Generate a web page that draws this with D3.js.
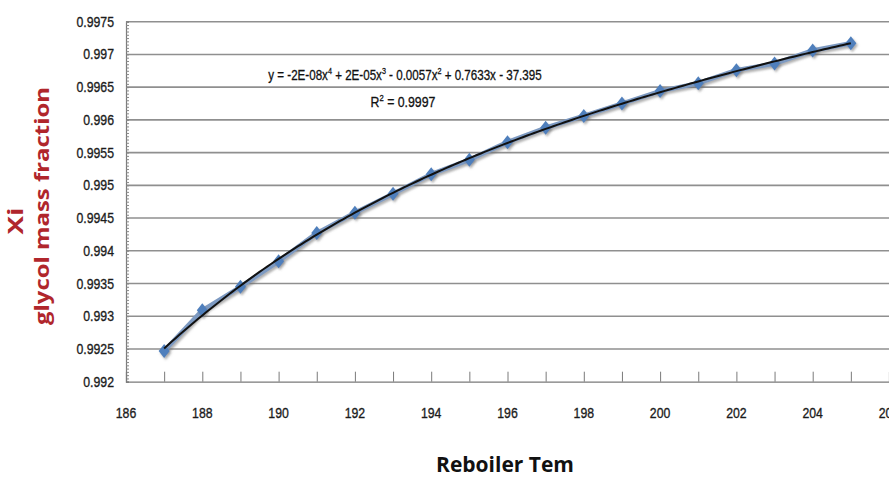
<!DOCTYPE html>
<html>
<head>
<meta charset="utf-8">
<script src="https://cdn.jsdelivr.net/npm/d3@7"></script>
<style>
  html, body { margin: 0; padding: 0; background: #fff; }
  svg { display: block; }
  .tick-label { font-family: "Liberation Sans", Arial, sans-serif; font-size: 15px; fill: #1c1c1c; stroke: #1c1c1c; stroke-width: 0.35px; }
  .eq { font-family: "Liberation Sans", Arial, sans-serif; font-size: 14.5px; fill: #111; stroke: #111; stroke-width: 0.3px; }
</style>
</head>
<body>
<svg id="chart" width="889" height="477"></svg>
<script>
// Reboiler temperature (°C) and glycol mass fraction in the bottoms (Xi)
const temps = [187, 188, 189, 190, 191, 192, 193, 194, 195, 196, 197, 198, 199, 200, 201, 202, 203, 204, 205];
const xi = [0.99247, 0.99309, 0.99345, 0.99384, 0.99427, 0.99458, 0.99487, 0.99517, 0.99539, 0.99566,
            0.99588, 0.99606, 0.99625, 0.99644, 0.99656, 0.99676, 0.99686, 0.99706, 0.99717];

const yTicks = [0.992, 0.9925, 0.993, 0.9935, 0.994, 0.9945, 0.995, 0.9955, 0.996, 0.9965, 0.997, 0.9975];
const yTickLabels = ["0.992", "0.9925", "0.993", "0.9935", "0.994", "0.9945", "0.995", "0.9955", "0.996", "0.9965", "0.997", "0.9975"];
const xTicks = [186, 188, 190, 192, 194, 196, 198, 200, 202, 204, 206];
const xTickLabels = ["186", "188", "190", "192", "194", "196", "198", "200", "202", "204", "206"];

const trendEquation = ["y = -2E-08x", "4", " + 2E-05x", "3", " - 0.0057x", "2", " + 0.7633x - 37.395"];
const rSquared = "0.9997";

const svg = d3.select("#chart");
const plotLeft = 126, plotTop = 21.7, plotBottom = 381.7, plotRight = 889;
const narrow = 0.82; // horizontal squeeze for the condensed label face

const x = d3.scaleLinear().domain([186, 206]).range([plotLeft, plotRight]);
const y = d3.scaleLinear().domain([0.992, 0.9975]).range([plotBottom, plotTop]);

// drop shadow for markers
const defs = svg.append("defs");
const f = defs.append("filter").attr("id", "shadow").attr("x", "-50%").attr("y", "-50%").attr("width", "200%").attr("height", "200%");
f.append("feDropShadow").attr("dx", 1.5).attr("dy", 2).attr("stdDeviation", 1.2)
  .attr("flood-color", "#6e6e6e").attr("flood-opacity", 0.55);

// horizontal gridlines
svg.append("g").selectAll("line").data(yTicks.slice(1)).join("line")
  .attr("x1", plotLeft).attr("x2", plotRight)
  .attr("y1", d => y(d)).attr("y2", d => y(d))
  .attr("stroke", "#8f8f8f").attr("stroke-width", 1.6);

// y axis with minor ticks
const yAxis = d3.axisRight(y)
  .tickValues(d3.range(0, 111).map(i => 0.992 + i * 0.00005))
  .tickSize(3).tickFormat("");
const gy = svg.append("g").attr("transform", `translate(${plotLeft},0)`).call(yAxis);
gy.select(".domain").attr("stroke", "#7a7a7a").attr("stroke-width", 1.2);
gy.selectAll(".tick line").attr("stroke", "#888");

// y tick labels
svg.append("g").selectAll("text").data(yTicks).join("text")
  .attr("class", "tick-label")
  .attr("transform", d => `translate(114,${y(d) + 5}) scale(${narrow},1)`)
  .attr("text-anchor", "end")
  .text((d, i) => yTickLabels[i]);

// x axis: major ticks every degree pointing into the plot
const xAxis = d3.axisTop(x).tickValues(d3.range(186, 207)).tickSize(10).tickFormat("");
const gx = svg.append("g").attr("transform", `translate(0,${plotBottom})`).call(xAxis);
gx.select(".domain").attr("stroke", "#7a7a7a").attr("stroke-width", 1.2);
gx.selectAll(".tick line").attr("stroke", "#7a7a7a");

svg.append("g").selectAll("text").data(xTicks).join("text")
  .attr("class", "tick-label")
  .attr("transform", d => `translate(${x(d)},418) scale(${narrow},1)`)
  .attr("text-anchor", "middle")
  .text((d, i) => xTickLabels[i]);

// series line
const line = d3.line().x((d, i) => x(temps[i])).y(d => y(d));
svg.append("path").datum(xi)
  .attr("d", line).attr("fill", "none")
  .attr("stroke", "#7d9ac2").attr("stroke-width", 4.5).attr("stroke-linejoin", "round")
  .attr("filter", "url(#shadow)");

// diamond markers
svg.append("g").selectAll("path").data(xi).join("path")
  .attr("transform", (d, i) => `translate(${x(temps[i])},${y(d)})`)
  .attr("d", "M0,-7L5.5,0L0,7L-5.5,0Z")
  .attr("fill", "#4f7fbc")
  .attr("filter", "url(#shadow)");

// 4th-order polynomial trendline (least squares on centred temperature)
function polyfit(xs, ys, deg) {
  const n = deg + 1;
  const A = Array.from({length: n}, () => new Array(n + 1).fill(0));
  xs.forEach((xv, k) => {
    for (let r = 0; r < n; r++) {
      for (let c = 0; c < n; c++) A[r][c] += Math.pow(xv, r + c);
      A[r][n] += ys[k] * Math.pow(xv, r);
    }
  });
  for (let i = 0; i < n; i++) {
    let p = i;
    for (let r = i + 1; r < n; r++) if (Math.abs(A[r][i]) > Math.abs(A[p][i])) p = r;
    [A[i], A[p]] = [A[p], A[i]];
    for (let r = 0; r < n; r++) {
      if (r === i) continue;
      const m = A[r][i] / A[i][i];
      for (let c = i; c <= n; c++) A[r][c] -= m * A[i][c];
    }
  }
  return A.map((row, i) => row[n] / row[i]);
}
const tc = temps.map(t => (t - 196) / 10);
const coef = polyfit(tc, xi, 4);
const evalPoly = t => { const u = (t - 196) / 10; return coef.reduce((s, c, k) => s + c * Math.pow(u, k), 0); };
const trendT = d3.range(0, 181).map(i => 187 + i * 0.1);
svg.append("path").datum(trendT)
  .attr("d", d3.line().x(t => x(t)).y(t => y(evalPoly(t))))
  .attr("fill", "none").attr("stroke", "#111").attr("stroke-width", 2);

// trendline equation and R²
const eq = svg.append("text").attr("class", "eq")
  .attr("transform", `translate(405,80) scale(0.8,1)`).attr("text-anchor", "middle");
trendEquation.forEach((s, i) => {
  if (i % 2 === 1) {
    eq.append("tspan").attr("dy", -6).attr("font-size", "9px").text(s);
  } else {
    eq.append("tspan").attr("dy", i === 0 ? 0 : 6).text(s);
  }
});
const r2 = svg.append("text").attr("class", "eq")
  .attr("transform", `translate(403,107) scale(0.85,1)`).attr("text-anchor", "middle");
r2.append("tspan").text("R");
r2.append("tspan").attr("dy", -6).attr("font-size", "9px").text("2");
r2.append("tspan").attr("dy", 6).text(" = " + rSquared);

// axis titles
svg.append("text")
  .attr("transform", "translate(23,221) rotate(-90)")
  .attr("text-anchor", "middle")
  .attr("font-family", "'Open Sans', 'DejaVu Sans', sans-serif")
  .attr("font-weight", "bold").attr("font-size", 21)
  .attr("textLength", 27).attr("lengthAdjust", "spacingAndGlyphs")
  .attr("fill", "#b0262c")
  .text("Xi");
svg.append("text")
  .attr("transform", "translate(49,206) rotate(-90)")
  .attr("text-anchor", "middle")
  .attr("font-family", "'Open Sans', 'DejaVu Sans', sans-serif")
  .attr("font-weight", "bold").attr("font-size", 19)
  .attr("textLength", 238).attr("lengthAdjust", "spacingAndGlyphs")
  .attr("fill", "#b0262c")
  .text("glycol mass fraction");

svg.append("text")
  .attr("x", 505).attr("y", 472)
  .attr("text-anchor", "middle")
  .attr("font-family", "'Open Sans', 'DejaVu Sans', sans-serif")
  .attr("font-weight", "bold").attr("font-size", 21)
  .attr("fill", "#111")
  .text("Reboiler Tem");
</script>
</body>
</html>
